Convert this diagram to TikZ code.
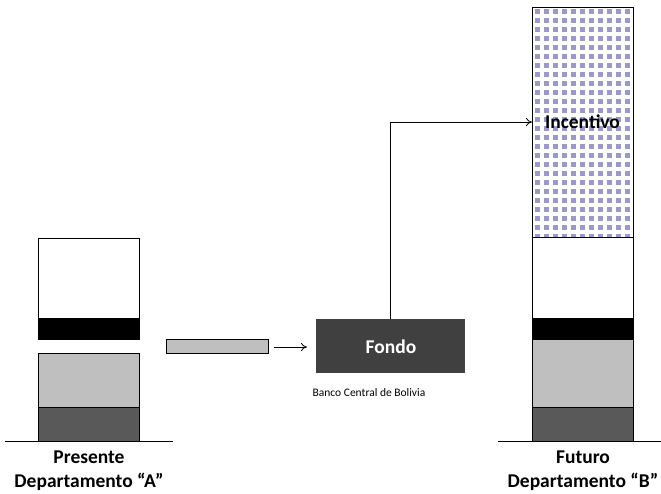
\documentclass[tikz,border=0pt]{standalone}
\usepackage{fontspec}
\setmainfont{Carlito}
\usetikzlibrary{arrows.meta}
\definecolor{lgray}{RGB}{191,191,191}
\definecolor{dgray}{RGB}{89,89,89}
\definecolor{fgray}{RGB}{64,64,64}
\definecolor{dotc}{RGB}{153,153,204}
\begin{document}
\begin{tikzpicture}[x=1pt,y=-1pt,
  blk/.style={draw=black, line width=0.8pt, inner sep=0pt, outer sep=0pt, minimum width=101pt, anchor=north west},
  lbl/.style={font=\fontsize{19.5}{22}\selectfont\bfseries, anchor=base, inner sep=0pt},
  conn/.style={line width=0.8pt, -{To[length=6pt,width=8pt]}}]
\useasboundingbox (0,0) rectangle (661,493);
% left stack
\node[blk, fill=white, minimum height=80pt] (aw) at (38,238) {};
\node[blk, fill=black, minimum height=21pt] (ak) at (38,318) {};
\node[blk, fill=lgray, minimum height=54pt] (ag) at (38,353) {};
\node[blk, fill=dgray, minimum height=34pt] (ad) at (38,407) {};
\coordinate (al) at (5,441);
\coordinate (ar) at (173,441);
\draw[line width=1pt] (al) -- (ar);
\node[lbl] (pres) at (89,463) {Presente};
\node[lbl] (depa) at (89,487) {Departamento “A”};
% small bar
\node[blk, fill=lgray, minimum width=102pt, minimum height=14pt] (bar) at (166,339) {};
% fondo
\node[fill=fgray, inner sep=0pt, minimum width=149pt, minimum height=54pt, anchor=north west] (fondo) at (316,319) {};
\node[font=\fontsize{19.5}{21}\selectfont\bfseries, text=white, anchor=base, inner sep=0pt] (ftxt) at (391,353) {Fondo};
\node[font=\fontsize{11.5}{13}\selectfont, anchor=base, inner sep=0pt] (bcb) at (369,396) {Banco Central de Bolivia};
\coordinate (a1) at (274,347);
\coordinate (a2) at (307,347);
\draw[conn] (a1) -- (a2);
% right stack
\begin{scope}
\clip (532,7) rectangle (633,237);
\foreach \i in {0,...,10}
  \foreach \j in {0,...,25}
    \fill[dotc] (534.5+9*\i, 8.5+9*\j) rectangle ++(5,5);
\end{scope}
\node[blk, minimum height=230pt] (inc) at (532,7) {};
\node[lbl] (inctxt) at (582.5,128) {Incentivo};
\node[blk, fill=white, minimum height=81pt] (bw) at (532,237) {};
\node[blk, fill=black, minimum height=21pt] (bk) at (532,318) {};
\node[blk, fill=lgray, minimum height=68pt] (bg) at (532,339) {};
\node[blk, fill=dgray, minimum height=34pt] (bd) at (532,407) {};
\coordinate (bl) at (498,441);
\coordinate (br) at (661,441);
\draw[line width=1pt] (bl) -- (br);
\node[lbl] (fut) at (583,463) {Futuro};
\node[lbl] (depb) at (583,487) {Departamento “B”};
% connector
\draw[conn] (fondo.north) |- (inc.west);
\end{tikzpicture}
\end{document}
